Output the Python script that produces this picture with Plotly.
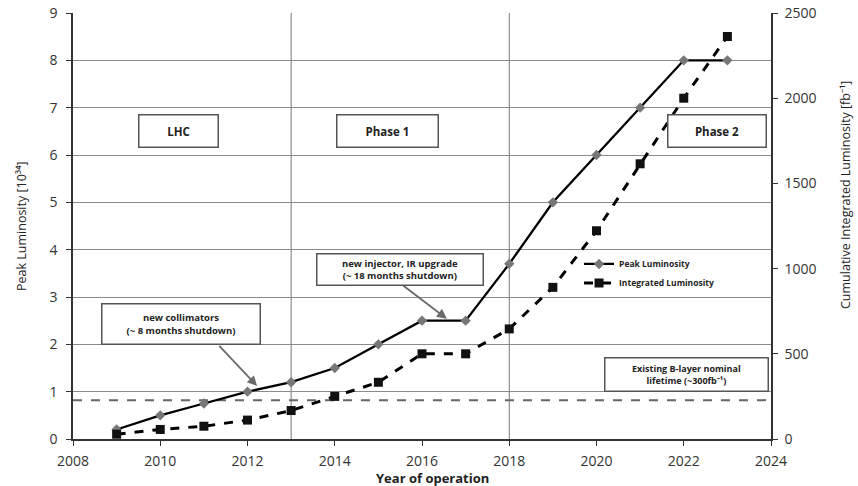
import plotly.graph_objects as go

# Year of operation
years = [2009, 2010, 2011, 2012, 2013, 2014, 2015, 2016, 2017, 2018, 2019, 2020, 2021, 2022, 2023]
# Peak luminosity [10^34]
peak_lumi = [0.2, 0.5, 0.75, 1.0, 1.2, 1.5, 2.0, 2.5, 2.5, 3.7, 5.0, 6.0, 7.0, 8.0, 8.0]
# Cumulative integrated luminosity [fb^-1]
integrated_lumi = [28, 56, 75, 111, 167, 250, 333, 500, 500, 646, 890, 1222, 1615, 2000, 2362]

# B-layer lifetime reference level (on the fb^-1 axis)
blayer_level = 228
# Phase boundaries
phase_bounds = [2013, 2018]

FONT = "Open Sans"
TXT = "#222222"

fig = go.Figure()

fig.add_trace(go.Scatter(
    x=years, y=peak_lumi, name="<b>Peak Luminosity</b>", mode="lines+markers",
    line=dict(color="black", width=2.3),
    marker=dict(symbol="diamond", size=8, color="#777777"),
    yaxis="y",
))
fig.add_trace(go.Scatter(
    x=years, y=integrated_lumi, name="<b>Integrated Luminosity</b>", mode="lines+markers",
    line=dict(color="black", width=3, dash="dash"),
    marker=dict(symbol="square", size=9, color="#111111"),
    yaxis="y2",
))

shapes = []
for xb in phase_bounds:
    shapes.append(dict(type="line", xref="x", yref="paper", x0=xb, x1=xb, y0=0, y1=1,
                       line=dict(color="#777777", width=1), layer="below"))
shapes.append(dict(type="line", xref="paper", yref="y2", x0=0, x1=1,
                   y0=blayer_level, y1=blayer_level,
                   line=dict(color="#666666", width=2, dash="dash"), layer="below"))

box = dict(bordercolor="#555555", borderwidth=1.5, bgcolor="white", showarrow=False,
           xref="x", yref="y")
big = dict(family=FONT, size=11.5, color=TXT)
small = dict(family=FONT, size=9.5, color=TXT)
arrow = dict(text="", showarrow=True, arrowhead=2, arrowsize=1.1, arrowwidth=1.8,
             arrowcolor="#6a6a6a", xref="x", yref="y", axref="x", ayref="y")

annotations = [
    # phase labels
    dict(x=2010.41, y=6.5, text="<b>LHC</b>", width=76, height=29, font=big, **box),
    dict(x=2015.2, y=6.5, text="<b>Phase 1</b>", width=98, height=29, font=big, **box),
    dict(x=2022.77, y=6.5, text="<b>Phase 2</b>", width=95, height=29, font=big, **box),
    # shutdown notes and their arrows
    dict(x=2012.22, y=1.12, ax=2011.32, ay=2.0, **arrow),
    dict(x=2010.48, y=2.44, text="<b>new collimators<br>(~ 8 months shutdown)</b>",
         width=155, height=37, font=small, **box),
    dict(x=2016.57, y=2.54, ax=2015.54, ay=3.26, **arrow),
    dict(x=2015.49, y=3.59, text="<b>new injector, IR upgrade<br>(~ 18 months shutdown)</b>",
         width=163, height=28, font=small, **box),
    dict(x=2022.06, y=1.37, text="<b>Existing B-layer nominal<br>lifetime (~300fb⁻¹)</b>",
         width=160, height=30, font=dict(family=FONT, size=9, color=TXT), **box),
    # axis titles
    dict(x=(21 - 73) / 698, y=0.5, xref="paper", yref="paper", text="Peak Luminosity [10³⁴]",
         xanchor="center", yanchor="middle",
         textangle=-90, showarrow=False, font=dict(family=FONT, size=12.5, color=TXT)),
    dict(x=(846 - 73) / 698, y=(439 - 195) / 426, xref="paper", yref="paper",
         text="Cumulative Integrated Luminosity [fb⁻¹]", xanchor="center", yanchor="middle",
         textangle=-90, showarrow=False, font=dict(family=FONT, size=12.5, color=TXT)),
    dict(x=(432 - 73) / 698, y=-(478 - 439) / 426, xref="paper", yref="paper",
         text="<b>Year of operation</b>", showarrow=False, xanchor="center", yanchor="middle",
         font=dict(family=FONT, size=13, color=TXT)),
]

tickfont = dict(family=FONT, size=14, color="#333333")
axis_common = dict(showline=True, linecolor="#333333", linewidth=1.5,
                   ticks="outside", ticklen=5, tickcolor="#333333",
                   tickfont=tickfont, automargin=False, zeroline=False)

fig.update_layout(
    width=858, height=486,
    margin=dict(l=73, r=87, t=13, b=47),
    paper_bgcolor="white", plot_bgcolor="white",
    font=dict(family=FONT, color=TXT),
    showlegend=True,
    legend=dict(x=0.725, y=0.445, xanchor="left", yanchor="top",
                bgcolor="rgba(255,255,255,0)", font=dict(family=FONT, size=8.5, color=TXT),
                itemwidth=30, tracegroupgap=0),
    xaxis=dict(range=[2008, 2024], dtick=2, tick0=2008, showgrid=False,
               ticklabelstandoff=3, **axis_common),
    yaxis=dict(range=[0, 9], dtick=1, showgrid=True, gridcolor="#8a8a8a", gridwidth=1,
               ticklabelstandoff=6, **axis_common),
    yaxis2=dict(range=[0, 2500], dtick=500, overlaying="y", side="right", showgrid=False,
                ticklabelstandoff=4, **axis_common),
    shapes=shapes,
    annotations=annotations,
)

fig.write_html("out.html")
